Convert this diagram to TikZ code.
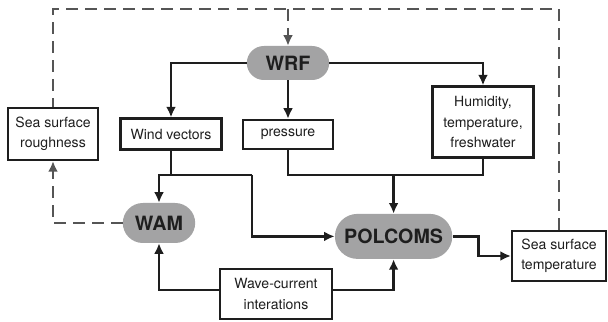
\documentclass[tikz,border=0pt]{standalone}
\usepackage{fontspec}
\setmainfont{TeX Gyre Heros}
\usepackage{tikz}
\usetikzlibrary{shapes,shapes.misc,positioning,calc}
\usetikzlibrary{arrows.meta}
\definecolor{modelgrey}{RGB}{163,163,164}
\definecolor{loopgrey}{RGB}{85,85,85}
\definecolor{inchiostro}{RGB}{30,30,30}
\tikzstyle{modello} = [rounded rectangle, fill=modelgrey, inner sep=2pt,
text centered, text=inchiostro, font=\bfseries\fontsize{14}{16}\selectfont]
\tikzstyle{campo} = [rectangle, draw=inchiostro, line width=1.6pt, inner sep=2pt,
align=center, text=inchiostro, font=\fontsize{10}{14.5}\selectfont]
\tikzstyle{arrow} = [inchiostro, line width=1.6pt,-{Latex[length=7.5pt,width=7pt]}]
\tikzstyle{linea} = [inchiostro, line width=1.6pt]
\tikzstyle{ritorno} = [line width=1.6pt, loopgrey, dash pattern=on 8.5pt off 5pt]
\tikzstyle{ritornofreccia} = [ritorno, -{Latex[length=7.5pt,width=7pt]}]

\begin{document}
\begin{tikzpicture}
							\useasboundingbox (0,0) rectangle (15.2,8.05);
							\node (wrf) at (7.2,6.475) [modello, minimum width=2.2cm, minimum height=0.85cm] {WRF};
							\node (wam) at (3.975,2.475) [modello, minimum width=1.95cm, minimum height=1cm] {WAM};
							\node (pol) at (9.84,2.14) [modello, minimum width=3.075cm, minimum height=1.125cm] {POLCOMS};
							\node (rough) at (1.325,4.7) [campo, minimum width=2.25cm, minimum height=1.3cm] {Sea surface\\roughness};
							\node (wind) at (4.275,4.7) [campo, minimum width=2.525cm, minimum height=0.775cm] {Wind vectors};
							\node (pres) at (7.2,4.69) [campo, minimum width=2.25cm, minimum height=0.725cm] {pressure};
							\node (hum) at (12.075,5.0) [campo, minimum width=2.525cm, minimum height=1.775cm] {Humidity,\\temperature,\\freshwater};
							\node (sst) at (13.975,1.65) [campo, minimum width=2.35cm, minimum height=1.25cm] {Sea surface\\temperature};
							\node (wave) at (6.9,0.7) [campo, minimum width=2.8cm, minimum height=1.25cm] {Wave-current\\interations};
							\coordinate (giro) at (7.2,7.825);
							\coordinate (wj) at (4.275,3.675);
							\coordinate (wk) at (6.3,3.675);
							\coordinate (pj) at (9.84,3.675);
							% feedback loop
							\draw[ritorno] (sst.north) |- (giro) -| (rough.north);
							\draw[ritornofreccia] (giro) -- (wrf.north);
							\draw[ritornofreccia] (wam.west) -| (rough.south);
							% atmosphere to the boxes
							\draw[arrow] (wrf.west) -| (wind.north);
							\draw[arrow] (wrf.south) -- (pres.north);
							\draw[arrow] (wrf.east) -| (hum.north);
							% forcing into the models
							\draw[linea] (wind.south) -- (wj);
							\draw[arrow] (wk) -| (wam.north);
							\draw[arrow] (wk) |- (pol.west);
							\draw[linea] (pres.south) |- (hum.south |- pj) -- (hum.south);
							\draw[arrow] (pj) -- (pol.north);
							\draw[arrow] (pol.east) -- ++(0.65,0) |- (sst.west);
							\draw[arrow] ([yshift=2.8pt]wave.west) -| (wam.south);
							\draw[arrow] ([yshift=2.8pt]wave.east) -| (pol.south);
\end{tikzpicture}
\end{document}
